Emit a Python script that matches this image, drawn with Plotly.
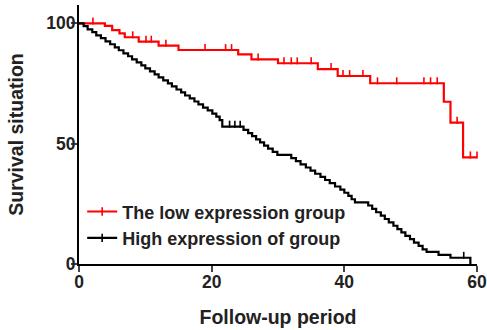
import plotly.graph_objects as go

# Low expression group (red) - event times and survival after each step
low_t = [0, 3.9, 5.0, 6.1, 6.9, 9.0, 12.0, 15.0, 24.0, 26.0, 30.0, 36.0, 39.0, 43.9, 55.0, 56.0, 57.9, 60.0]
low_s = [100, 98.9, 97.2, 95.8, 94.2, 92.4, 90.7, 88.9, 87.1, 85.0, 83.4, 81.0, 78.1, 75.1, 67.4, 58.7, 44.3, 44.3]
low_cens_t = [2.1, 8.1, 10.1, 10.9, 13.1, 19.0, 22.1, 23.0, 27.0, 30.9, 32.0, 32.9, 35.0, 38.0, 39.8,
              40.8, 42.8, 45.0, 47.9, 52.0, 53.0, 54.0, 57.0, 59.0, 60.0]

# High expression group (black)
high_t = [0, 0.7, 1.3, 2.0, 2.6, 3.3, 4.0, 4.7, 5.4, 6.0, 6.7, 7.4, 8.0, 8.7, 9.4, 10.0, 10.7, 11.4,
          12.0, 12.7, 13.4, 14.0, 14.7, 15.4, 16.0, 16.7, 17.4, 18.0, 18.7, 19.4, 20.1, 20.7, 21.2, 21.6,
          24.8, 25.5, 26.1, 26.7, 27.3, 27.9, 28.5, 29.2, 29.9, 32.0, 32.7, 33.4, 34.2, 34.9, 35.6, 36.4,
          37.1, 37.8, 38.6, 39.4, 40.0, 40.6, 41.1, 41.6, 43.6, 44.2, 44.8, 45.5, 46.1, 46.7, 47.4, 48.0,
          48.6, 49.2, 49.9, 50.5, 51.2, 51.8, 52.4, 54.2, 56.0, 59.0]
high_s = [100, 98.8, 97.5, 96.3, 95.0, 93.8, 92.5, 91.3, 90.0, 88.8, 87.5, 86.3, 85.0, 83.8, 82.5, 81.3,
          80.0, 78.8, 77.5, 76.3, 75.0, 73.8, 72.5, 71.3, 70.0, 68.8, 67.5, 66.3, 65.0, 63.8, 62.5, 61.2,
          59.8, 57.1, 55.7, 54.4, 53.1, 51.8, 50.5, 49.2, 47.9, 46.6, 45.3, 44.0, 42.7, 41.4, 40.1, 38.8,
          37.5, 36.2, 34.9, 33.6, 32.2, 30.9, 29.6, 28.3, 26.9, 25.6, 24.3, 22.9, 21.5, 20.1, 18.7, 17.3,
          15.9, 14.5, 13.1, 11.7, 10.3, 8.9, 7.5, 6.1, 5.0, 3.8, 2.6, 0]
high_cens_t = [22.7, 23.5, 24.3, 58.0]

labels = ["The low expression group", "High expression of group"]
colors = ["#ff0000", "#000000"]
x_ticks = [0, 20, 40, 60]
y_ticks = [0, 50, 100]

FONT = "Liberation Sans, Arial, sans-serif"
TXT = "#222222"


def surv_at(ts, ss, t):
    v = ss[0]
    for ti, si in zip(ts, ss):
        if ti <= t:
            v = si
    return v


fig = go.Figure()
for (ts, ss, cens, lab, col) in [(low_t, low_s, low_cens_t, labels[0], colors[0]),
                                  (high_t, high_s, high_cens_t, labels[1], colors[1])]:
    fig.add_trace(go.Scatter(x=ts, y=ss, mode="lines", line=dict(color=col, width=2.2, shape="hv"),
                             showlegend=False, hoverinfo="skip", cliponaxis=False))
    fig.add_trace(go.Scatter(x=cens, y=[surv_at(ts, ss, c) + 1.0 for c in cens], mode="markers",
                             marker=dict(symbol="line-ns-open", size=5, color=col,
                                         line=dict(color=col, width=1.6)),
                             showlegend=False, hoverinfo="skip", cliponaxis=False))
    fig.add_trace(go.Scatter(x=[None], y=[None], mode="lines+markers", name=lab,
                             line=dict(color=col, width=2.2),
                             marker=dict(symbol="line-ns-open", size=6, color=col,
                                         line=dict(color=col, width=1.6))))

fig.update_layout(
    width=487, height=330,
    margin=dict(l=79, r=10, t=5, b=66),
    paper_bgcolor="white", plot_bgcolor="white",
    font=dict(family=FONT, size=16, color=TXT),
    legend=dict(x=0.008, y=0.273, xanchor="left", yanchor="top", bgcolor="rgba(0,0,0,0)",
                font=dict(family=FONT, size=18, color=TXT, weight="bold"),
                itemwidth=30, tracegroupgap=0),
)
fig.update_xaxes(range=[0, 60], tickvals=x_ticks, ticks="outside", ticklen=6, tickwidth=2,
                 showline=True, linewidth=2, linecolor="black", showgrid=False, zeroline=False,
                 automargin=False, ticklabelstandoff=-5,
                 tickfont=dict(family=FONT, size=17.5, weight="bold", color=TXT),
                 title=dict(text="Follow-up period", font=dict(family=FONT, size=19.5, weight="bold", color=TXT),
                            standoff=19))
fig.update_yaxes(range=[0, 107.6], tickvals=y_ticks, ticks="outside", ticklen=6, tickwidth=2,
                 showline=True, linewidth=2, linecolor="black", showgrid=False, zeroline=False,
                 automargin=False, ticklabelstandoff=-8,
                 tickfont=dict(family=FONT, size=17.5, weight="bold", color=TXT),
                 title=dict(text="Survival situation", font=dict(family=FONT, size=19.5, weight="bold", color=TXT),
                            standoff=17))

fig.write_html("out.html", config={"displayModeBar": False, "staticPlot": True},
               post_script="document.body.style.margin='0';")
